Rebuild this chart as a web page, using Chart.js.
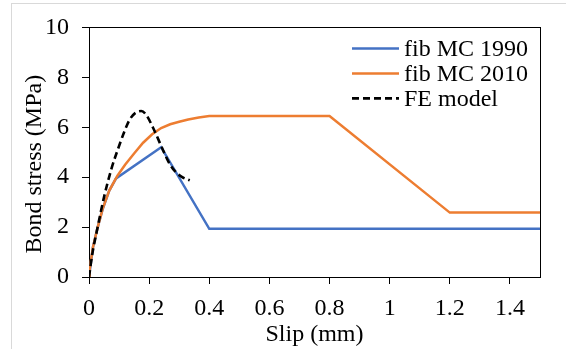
<!DOCTYPE html>
<html>
<head>
<meta charset="utf-8">
<script src="https://cdn.jsdelivr.net/npm/chart.js@4/dist/chart.umd.min.js"></script>
<style>
  html, body { margin: 0; padding: 0; background: #fff; }
  #wrap { position: relative; width: 566px; height: 349px; overflow: hidden; }
  #frame { position: absolute; left: 11px; top: 3px; width: 600px; height: 400px;
           border-left: 1px solid #d9d9d9; border-top: 1px solid #d9d9d9; }
  canvas { position: absolute; left: 0; top: 0; }
</style>
</head>
<body>
<div id="wrap">
  <div id="frame"></div>
  <canvas id="c" width="566" height="349"></canvas>
</div>
<script>
// ---- data ----
const seriesNames = ['fib MC 1990', 'fib MC 2010', 'FE model'];

const mc1990Slip   = [0, 0.013, 0.028, 0.045, 0.067, 0.09, 0.24, 0.40, 1.50];
const mc1990Stress = [0, 1.18, 1.95, 2.70, 3.45, 3.95, 5.20, 1.93, 1.93];

const mc2010Slip   = [0, 0.002, 0.013, 0.028, 0.045, 0.067, 0.094, 0.12, 0.15, 0.18, 0.21, 0.24, 0.27, 0.30, 0.33, 0.365, 0.40, 0.80, 1.20, 1.50];
const mc2010Stress = [0, 0.30, 1.18, 1.95, 2.72, 3.45, 4.05, 4.50, 4.95, 5.38, 5.72, 5.97, 6.12, 6.22, 6.31, 6.39, 6.45, 6.45, 2.58, 2.58];

const feSlip   = [0, 0.011, 0.028, 0.05, 0.075, 0.10, 0.12, 0.135, 0.155, 0.174, 0.19, 0.213, 0.246, 0.265, 0.285, 0.31, 0.335];
const feStress = [0, 0.92, 1.95, 3.20, 4.35, 5.25, 5.90, 6.30, 6.58, 6.65, 6.50, 5.98, 5.09, 4.60, 4.25, 4.00, 3.87];

const xTickValues = [0, 0.2, 0.4, 0.6, 0.8, 1, 1.2, 1.4];
const yTickValues = [0, 2, 4, 6, 8, 10];

const xTitle = 'Slip (mm)';
const yTitle = 'Bond stress (MPa)\u2003';

// ---- build ----
const toPts = (xs, ys) => xs.map((x, i) => ({ x: x, y: ys[i] }));

Chart.defaults.font.family = "'Liberation Serif', 'Times New Roman', serif";
Chart.defaults.font.size = 24;
Chart.defaults.color = '#000';

const legendPlugin = {
  id: 'insideLegend',
  afterDraw(chart) {
    const ctx = chart.ctx;
    const ca = chart.chartArea;
    const x0 = ca.right - 188, x1 = ca.right - 141, tx = ca.right - 136;
    ctx.save();
    ctx.font = "24px 'Liberation Serif', serif";
    ctx.textAlign = 'left';
    ctx.textBaseline = 'alphabetic';
    chart.data.datasets.forEach((ds, i) => {
      const y = ca.top + 21 + 25 * i;
      ctx.beginPath();
      ctx.strokeStyle = ds.borderColor;
      ctx.lineWidth = ds.borderWidth;
      ctx.setLineDash(ds.borderDash || []);
      ctx.moveTo(x0, y);
      ctx.lineTo(x1, y);
      ctx.stroke();
      ctx.setLineDash([]);
      ctx.fillStyle = '#000';
      ctx.fillText(ds.label, tx, y + 8);
    });
    ctx.restore();
  }
};

new Chart(document.getElementById('c'), {
  type: 'line',
  data: {
    datasets: [
      { label: seriesNames[0], data: toPts(mc1990Slip, mc1990Stress), order: 2,
        borderColor: '#4472C4', borderWidth: 2.5, tension: 0, pointRadius: 0, fill: false },
      { label: seriesNames[1], data: toPts(mc2010Slip, mc2010Stress), order: 1,
        borderColor: '#ED7D31', borderWidth: 2.5, tension: 0, pointRadius: 0, fill: false },
      { label: seriesNames[2], data: toPts(feSlip, feStress), order: 0,
        borderColor: '#000000', borderWidth: 2.6, borderDash: [7, 4], cubicInterpolationMode: 'monotone',
        pointRadius: 0, fill: false }
    ]
  },
  options: {
    responsive: false,
    animation: false,
    devicePixelRatio: 1,
    layout: { padding: { left: 12, top: 17, right: 26, bottom: 0 } },
    plugins: { legend: { display: false }, tooltip: { enabled: false } },
    scales: {
      x: {
        type: 'linear', position: 'bottom', min: 0, max: 1.5,
        afterBuildTicks: (s) => { s.ticks = xTickValues.map(v => ({ value: v })); },
        afterFit: (s) => { s.height = 72; },
        ticks: { color: '#000', padding: 10, maxRotation: 0, autoSkip: false,
                 callback: (v) => String(v) },
        grid: { drawOnChartArea: false, drawTicks: true, tickLength: 7, color: '#000', tickWidth: 1 },
        border: { display: true, color: '#000', width: 1 },
        title: { display: true, text: xTitle, color: '#000', padding: { top: 0, bottom: 0 } }
      },
      y: {
        type: 'linear', position: 'left', min: 0, max: 10,
        afterBuildTicks: (s) => { s.ticks = yTickValues.map(v => ({ value: v })); },
        afterFit: (s) => { s.width = 77; },
        ticks: { color: '#000', padding: 13, callback: (v) => String(v) },
        grid: { drawOnChartArea: false, drawTicks: true, tickLength: 7, color: '#000', tickWidth: 1 },
        border: { display: true, color: '#000', width: 1 },
        title: { display: true, text: yTitle, color: '#000', padding: { top: 8, bottom: 0 } }
      },
      x2: {
        type: 'linear', position: 'top', min: 0, max: 1.5,
        afterFit: (s) => { s.height = 0; },
        ticks: { display: false },
        grid: { drawOnChartArea: false, drawTicks: false },
        border: { display: true, color: '#000', width: 1 }
      },
      y2: {
        type: 'linear', position: 'right', min: 0, max: 10,
        afterFit: (s) => { s.width = 0; },
        ticks: { display: false },
        grid: { drawOnChartArea: false, drawTicks: false },
        border: { display: true, color: '#000', width: 1 }
      }
    }
  },
  plugins: [legendPlugin]
});
</script>
</body>
</html>
